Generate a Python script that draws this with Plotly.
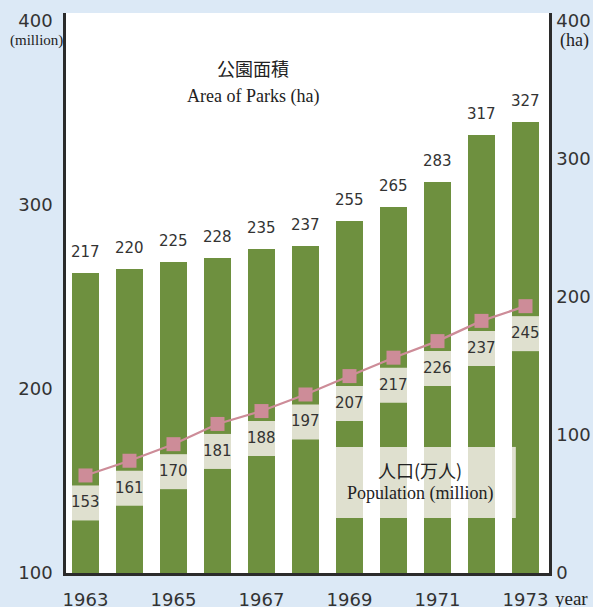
import plotly.graph_objects as go

years = ["1963", "1964", "1965", "1966", "1967", "1968", "1969", "1970", "1971", "1972", "1973"]
parks_ha = [217, 220, 225, 228, 235, 237, 255, 265, 283, 317, 327]
population_million = [153, 161, 170, 181, 188, 197, 207, 217, 226, 237, 245]
left_ticks = [100, 200, 300, 400]
right_ticks = [0, 100, 200, 300, 400]
xtick_labels = ["1963", "1965", "1967", "1969", "1971", "1973"]

GREEN = "#6e903f"
LIGHT = "#dfe0cf"
PINK = "#cd8c98"
BG = "#dce9f6"
TXT = "#333333"
NUM_FONT = "DejaVu Sans"
SERIF = "Liberation Serif"
CJK = "Noto Sans CJK JP"

xs = list(range(len(years)))
bar_w = 0.614

fig = go.Figure()
fig.add_trace(go.Bar(x=xs, y=parks_ha, width=bar_w, marker=dict(color=GREEN, line=dict(width=0)),
                     yaxis="y", showlegend=False, hoverinfo="skip"))
fig.add_trace(go.Scatter(x=xs, y=population_million, yaxis="y2", mode="lines+markers",
                         line=dict(color=PINK, width=2.2),
                         marker=dict(symbol="square", size=14, color=PINK),
                         showlegend=False, hoverinfo="skip"))

shapes = []
annotations = []
# small label boxes under each population point
for i, v in enumerate(population_million):
    shapes.append(dict(type="rect", xref="x", yref="y2", ysizemode="pixel", yanchor=v,
                       x0=i - bar_w / 2, x1=i + bar_w / 2, y0=-45, y1=-10,
                       fillcolor=LIGHT, line=dict(width=0), layer="above"))
    annotations.append(dict(x=i, y=v, xref="x", yref="y2", yshift=-27, text=str(v),
                            showarrow=False, font=dict(family=NUM_FONT, size=15, color=TXT)))
# bar value labels
for i, v in enumerate(parks_ha):
    annotations.append(dict(x=i, y=v, xref="x", yref="y", yshift=21, text=str(v),
                            showarrow=False, font=dict(family=NUM_FONT, size=15, color=TXT)))

# legend box for population (paints over bars only)
box_x0, box_x1 = 5.67, 9.78
box_y0, box_y1 = 129.9, 168.5
for i in xs:
    x0 = max(i - bar_w / 2, box_x0)
    x1 = min(i + bar_w / 2, box_x1)
    if x0 < x1:
        shapes.append(dict(type="rect", xref="x", yref="y2", x0=x0, x1=x1, y0=box_y0, y1=box_y1,
                           fillcolor=LIGHT, line=dict(width=0), layer="above"))

annotations += [
    dict(x=253, y=68, text="公園面積", showarrow=False,
         font=dict(family=CJK, size=18, color="#222")),
    dict(x=253, y=96, text="Area of Parks (ha)", showarrow=False,
         font=dict(family=SERIF, size=18, color="#222")),
    dict(x=420, y=470, text="人口(万人)", showarrow=False,
         font=dict(family=CJK, size=18, color="#222")),
    dict(x=420, y=493, text="Population (million)", showarrow=False,
         font=dict(family=SERIF, size=18, color="#222")),
    dict(x=36, y=40, text="(million)", showarrow=False,
         font=dict(family=SERIF, size=15, color="#222")),
    dict(x=574, y=40, text="(ha)", showarrow=False,
         font=dict(family=SERIF, size=18, color="#222")),
    dict(x=571, y=598, text="year", showarrow=False,
         font=dict(family=SERIF, size=19, color="#222")),
]
# convert pixel-positioned annotations to paper coords
W, H = 593, 607
L, R, T, B = 66, 44, 13, 34
pw, ph = W - L - R, H - T - B
for a in annotations:
    if "xref" not in a:
        a["xref"] = "paper"
        a["yref"] = "paper"
        px, py = a["x"], a["y"]
        a["x"] = (px - L) / pw
        a["y"] = (H - B - py) / ph
        a["xanchor"] = "center"
        a["yanchor"] = "middle"

axis_common = dict(showgrid=False, zeroline=False, showline=True, linecolor="#2b2b2b",
                   linewidth=2.5, ticks="", automargin=False,
                   tickfont=dict(family=NUM_FONT, size=18, color=TXT))

fig.update_layout(
    width=W, height=H,
    margin=dict(l=L, r=R, t=T, b=B, pad=0, autoexpand=False),
    paper_bgcolor=BG, plot_bgcolor="white",
    bargap=0,
    xaxis=dict(range=[-0.443, 10.534], tickvals=[0, 2, 4, 6, 8, 10], ticktext=xtick_labels,
               ticklabelstandoff=9, **axis_common),
    yaxis=dict(range=[0, 405.7], side="right", tickvals=right_ticks,
               ticklabelstandoff=1, **axis_common),
    yaxis2=dict(range=[100, 404.3], side="left", overlaying="y", tickvals=left_ticks,
                ticklabelstandoff=7, **axis_common),
    shapes=shapes,
    annotations=annotations,
)

fig.write_html(
    "out.html",
    config={"displayModeBar": False},
    post_script="document.body.style.margin='0';document.body.style.background='%s';"
                "document.body.style.overflow='hidden';" % BG,
)
